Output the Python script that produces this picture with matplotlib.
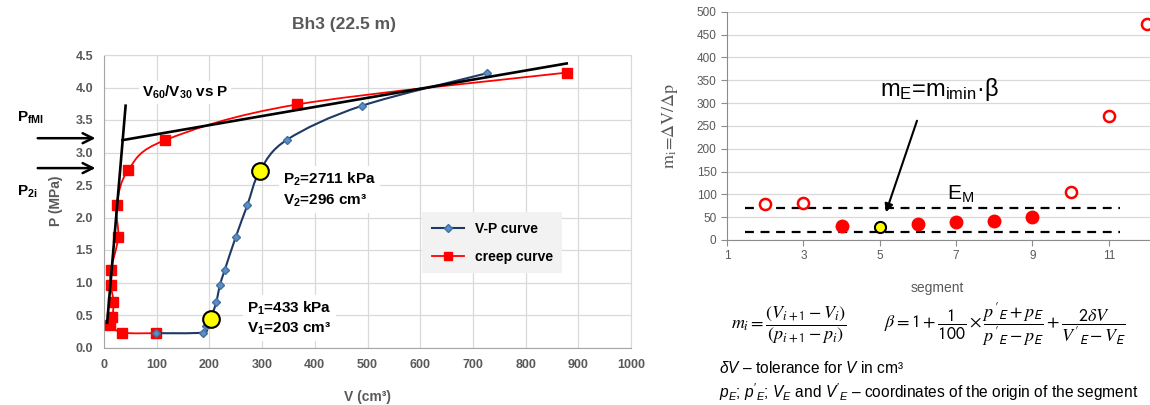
import numpy as np
import matplotlib
matplotlib.use("Agg")
import matplotlib.pyplot as plt
from matplotlib.path import Path
from matplotlib.patches import PathPatch
from matplotlib.lines import Line2D

# left chart: pressuremeter test Bh3
vp_v = [98, 187, 194, 203, 213, 220, 229, 250, 272, 296, 348, 490, 727]
vp_p = [0.22, 0.23, 0.33, 0.45, 0.70, 0.96, 1.19, 1.70, 2.19, 2.72, 3.20, 3.72, 4.22]
creep_v = [98, 35, 12, 16, 18, 13, 13, 27, 24, 46, 116, 367, 879]
creep_p = [0.22, 0.23, 0.35, 0.47, 0.70, 0.96, 1.19, 1.70, 2.19, 2.73, 3.19, 3.74, 4.23]
key_v = [203, 296]
key_p = [0.433, 2.711]
tan1_v = [6, 41]
tan1_p = [0.38, 3.72]
tan2_v = [35, 878]
tan2_p = [3.19, 4.37]
p_fmi = 3.22
p_2i = 2.76

# right chart: m_i per segment
seg_open = [2, 3, 10, 11, 12]
m_open = [79, 82, 106, 271, 472]
seg_fill = [4, 6, 7, 8, 9]
m_fill = [31, 35, 40, 42, 51]
seg_min = [5]
m_min = [28]
band_lo = 17
band_hi = 71
band_x = [1.47, 11.3]

GREY = '#595959'
GRID = '#d9d9d9'

plt.rcParams['font.family'] = ['Liberation Sans', 'DejaVu Sans']
plt.rcParams['mathtext.fontset'] = 'custom'
plt.rcParams['mathtext.rm'] = 'Liberation Sans'
plt.rcParams['mathtext.it'] = 'Liberation Sans:italic'
plt.rcParams['mathtext.bf'] = 'Liberation Sans:bold'


def smooth_path(x, y):
    # Excel style smoothed line through the points (Catmull-Rom as Bezier)
    pts = np.column_stack([x, y]).astype(float)
    n = len(pts)
    verts = [pts[0]]
    codes = [Path.MOVETO]
    for i in range(n - 1):
        p0 = pts[max(i - 1, 0)]
        p1 = pts[i]
        p2 = pts[i + 1]
        p3 = pts[min(i + 2, n - 1)]
        verts += [p1 + (p2 - p0) / 6, p2 - (p3 - p1) / 6, p2]
        codes += [Path.CURVE4] * 3
    return Path(verts, codes)


fig = plt.figure(figsize=(11.5, 4.05), dpi=100)

# ---------------- left chart ----------------
ax = fig.add_axes([104 / 1150, 1 - 347.5 / 405, 527 / 1150, 292.5 / 405])
ax.set_xlim(0, 1000)
ax.set_ylim(0, 4.5)
ax.set_xticks(np.arange(0, 1001, 100))
ax.set_yticks(np.arange(0, 4.51, 0.5))
ax.set_yticklabels(['%.1f' % t for t in np.arange(0, 4.51, 0.5)])
ax.grid(True, color=GRID, lw=0.9)
ax.set_axisbelow(True)
ax.tick_params(length=0, labelsize=9, labelcolor=GREY, pad=8)
for lab in ax.get_xticklabels() + ax.get_yticklabels():
    lab.set_fontweight('bold')
for s in ['top', 'right']:
    ax.spines[s].set_color(GRID)
for s in ['left', 'bottom']:
    ax.spines[s].set_color('#a6a6a6')

ax.add_patch(PathPatch(smooth_path(creep_v, creep_p), fill=False, ec='#ff0000', lw=1.3, zorder=3))
ax.plot(creep_v, creep_p, 's', color='#ff0000', ms=7, zorder=3)
ax.add_patch(PathPatch(smooth_path(vp_v, vp_p), fill=False, ec='#1f3864', lw=1.5, zorder=3))
ax.plot(vp_v, vp_p, 'D', color='#5b8ec9', mec='#41719c', ms=4.5, zorder=3)
ax.plot(tan1_v, tan1_p, color='black', lw=1.9, zorder=4)
ax.plot(tan2_v, tan2_p, color='black', lw=1.9, zorder=4)
ax.plot(key_v, key_p, 'o', mfc='#ffff00', mec='black', mew=1.5, ms=12, zorder=5)

bold = dict(fontweight='bold', color='black', fontsize=11)
ax.text(72, 3.93, r'V$_\mathbf{60}$/V$_\mathbf{30}$ vs P', va='center', ha='left',
        bbox=dict(fc='white', ec='none', pad=2), **bold)
ax.text(339, 2.43, 'P$_\\mathbf{2}$=2711 kPa\nV$_\\mathbf{2}$=296 cm³', va='center', ha='left',
        linespacing=1.35, bbox=dict(fc='white', ec='none', pad=3), zorder=2, **bold)
ax.text(272, 0.45, 'P$_\\mathbf{1}$=433 kPa\nV$_\\mathbf{1}$=203 cm³', va='center', ha='left',
        linespacing=1.35, bbox=dict(fc='white', ec='none', pad=3), zorder=2, **bold)

ytr = ax.get_yaxis_transform()
for p in [p_fmi, p_2i]:
    ax.annotate('', xy=(-0.011, p), xytext=(-0.131, p), xycoords=ytr, textcoords=ytr,
                arrowprops=dict(arrowstyle='->', lw=1.8, color='black', mutation_scale=18),
                annotation_clip=False)
ax.text(-0.165, 3.53, r'P$_\mathbf{fMI}$', transform=ytr, ha='left', va='center', **bold)
ax.text(-0.165, 2.39, r'P$_\mathbf{2i}$', transform=ytr, ha='left', va='center', **bold)

ax.set_xlabel('V (cm³)', fontsize=10, fontweight='bold', color=GREY)
ax.set_ylabel('P (MPa)', fontsize=10, fontweight='bold', color=GREY)
ax.xaxis.set_label_coords(0.5, -0.145)
ax.yaxis.set_label_coords(-0.078, 0.5)
fig.text(344 / 1150, 1 - 25 / 405, 'Bh3 (22.5 m)', ha='center', va='center',
         fontsize=12.5, fontweight='bold', color=GREY)

handles = [Line2D([], [], color='#1f3864', marker='D', mfc='#5b8ec9', mec='#41719c', ms=4.5, lw=1.5),
           Line2D([], [], color='#ff0000', marker='s', ms=6, lw=1.3)]
leg = ax.legend(handles, ['V-P curve', 'creep curve'], loc='upper left',
                bbox_to_anchor=(0.59, 0.487), frameon=True, fancybox=False,
                prop=dict(weight='bold', size=10), handlelength=2.3, labelspacing=1.0,
                borderpad=0.7)
leg.get_frame().set_facecolor('#f2f2f2')
leg.get_frame().set_edgecolor('none')
leg.get_frame().set_alpha(1)

# ---------------- right chart ----------------
bx = fig.add_axes([727 / 1150, 1 - 240 / 405, 423 / 1150, 228.3 / 405])
bx.set_xlim(1, 12.08)
bx.set_ylim(0, 500)
bx.set_xticks([1, 3, 5, 7, 9, 11])
bx.set_yticks(np.arange(0, 501, 50))
bx.grid(True, axis='y', color=GRID, lw=0.9)
bx.set_axisbelow(True)
for s in ['top', 'right']:
    bx.spines[s].set_visible(False)
for s in ['left', 'bottom']:
    bx.spines[s].set_color('#8c8c8c')
bx.tick_params(labelsize=8.5, labelcolor=GREY, color='#8c8c8c', length=4)

bx.plot(band_x, [band_hi, band_hi], '--', color='black', lw=1.6, dashes=(4, 3))
bx.plot(band_x, [band_lo, band_lo], '--', color='black', lw=1.6, dashes=(4, 3))
bx.plot(seg_open, m_open, 'o', mfc='white', mec='#ff0000', mew=1.8, ms=8, clip_on=False, zorder=4)
bx.plot(seg_fill, m_fill, 'o', color='#ff0000', ms=9, zorder=4)
bx.plot(seg_min, m_min, 'o', mfc='#ffff00', mec='black', mew=1.5, ms=8, zorder=4)

bx.annotate('', xy=(5.14, 55), xytext=(6.0, 267),
            arrowprops=dict(arrowstyle='-|>', lw=1.5, color='black', mutation_scale=12))
bx.text(5.0, 330, r'm$_\mathregular{E}$=m$_\mathregular{imin}$·β', fontsize=17,
        ha='left', va='center', color='black')
bx.text(6.75, 100, r'E$_\mathregular{M}$', fontsize=15, ha='left', va='center', color='black')

bx.set_xlabel('segment', fontsize=10, color=GREY)
bx.xaxis.set_label_coords(0.497, -0.18)
bx.set_ylabel(r'$\mathrm{m_i\!=\!\Delta V/\Delta p}$', fontsize=13, color=GREY,
              math_fontfamily='stix')
bx.yaxis.set_label_coords(-0.111, 0.5)

fig.text(789 / 1150, 1 - 325 / 405,
         r'$m_i=\dfrac{(V_{i+\mathsf{1}}-V_i)}{(p_{i+\mathsf{1}}-p_i)}$', fontsize=13,
         ha='center', va='center', math_fontfamily='stix')
fig.text(1005 / 1150, 1 - 325 / 405,
         r"$\beta=\mathsf{1}+\dfrac{\mathsf{1}}{\mathsf{100}}\times\dfrac{p'_{\mathsf{E}}+p_{\mathsf{E}}}"
         r"{p'_{\mathsf{E}}-p_{\mathsf{E}}}+\dfrac{\mathsf{2}\delta V}{V'_{\mathsf{E}}-V_{\mathsf{E}}}$",
         fontsize=13, ha='center', va='center', math_fontfamily='stix')
fig.text(719 / 1150, 1 - 368 / 405, r'$\delta V$ – tolerance for $V$ in cm³', fontsize=11.2,
         ha='left', va='center')
fig.text(719 / 1150, 1 - 392 / 405,
         r"$p_E$; $p'_E$; $V_E$ and $V'_E$ – coordinates of the origin of the segment",
         fontsize=11.2, ha='left', va='center')

fig.savefig('out.png', dpi=100)
